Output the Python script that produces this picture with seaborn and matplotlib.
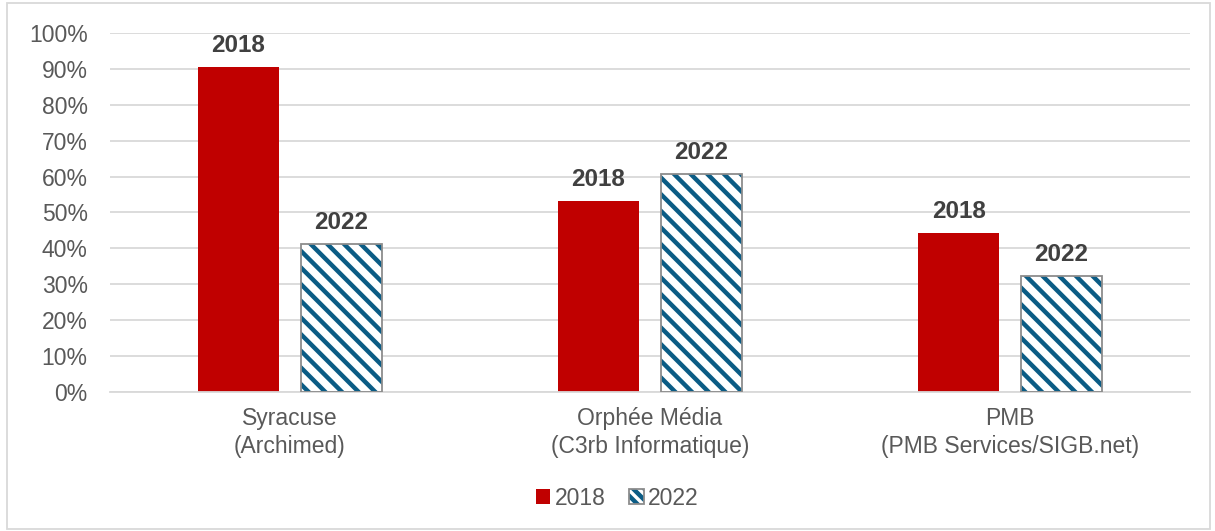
import matplotlib
matplotlib.use("Agg")
import matplotlib.pyplot as plt
import matplotlib.patches as mpatches
from matplotlib.ticker import PercentFormatter
import seaborn as sns
import pandas as pd

categories = ["Syracuse\n(Archimed)", "Orphée Média\n(C3rb Informatique)", "PMB\n(PMB Services/SIGB.net)"]
years = ["2018", "2022"]
share_2018 = [0.905, 0.532, 0.443]
share_2022 = [0.412, 0.607, 0.323]

RED = "#C00000"
TEAL = "#0B5C85"
OUTLINE = "#8C8C8C"
TEXT = "#595959"

sns.set_theme(style="white")
plt.rcParams["font.family"] = ["Liberation Sans", "DejaVu Sans"]
plt.rcParams["hatch.linewidth"] = 3.2

df = pd.DataFrame({
    "categorie": categories * 2,
    "annee": [years[0]] * 3 + [years[1]] * 3,
    "part": share_2018 + share_2022,
})

fig = plt.figure(figsize=(12.15, 5.31), dpi=100)
ax = fig.add_axes([0.0905, 0.262, 0.889, 0.676])

sns.barplot(data=df, x="categorie", y="part", hue="annee", order=categories,
            hue_order=years, palette=[RED, "white"], width=0.572, gap=0.21,
            ax=ax, legend=False, saturation=1)

bars_2018 = ax.containers[0]
bars_2022 = ax.containers[1]
for p in bars_2018:
    p.set_edgecolor(RED)
    p.set_linewidth(0)
for p in bars_2022:
    p.set_facecolor("white")
    p.set_hatch("\\\\")
    p.set_edgecolor(TEAL)
    p.set_linewidth(0)
    ax.add_patch(mpatches.Rectangle(p.get_xy(), p.get_width(), p.get_height(),
                                    fill=False, edgecolor=OUTLINE, linewidth=1.3, zorder=3))

for cont, yr in zip(ax.containers, years):
    ax.bar_label(cont, labels=[yr] * len(cont), padding=7, fontsize=17.5,
                 fontweight="bold", color="#404040")

ax.set_ylim(0, 1)
ax.set_xlim(-0.5, 2.5)
ax.yaxis.set_major_locator(plt.MultipleLocator(0.1))
ax.yaxis.set_major_formatter(PercentFormatter(1.0, decimals=0))
ax.grid(axis="y", color="#D9D9D9", linewidth=1.3)
ax.set_axisbelow(True)
for s in ["top", "right", "left"]:
    ax.spines[s].set_visible(False)
ax.spines["bottom"].set_color("#D9D9D9")
ax.spines["bottom"].set_linewidth(1.3)
ax.tick_params(axis="both", length=0, labelsize=16.5, labelcolor=TEXT)
ax.tick_params(axis="y", pad=16)
ax.tick_params(axis="x", pad=11)
for lbl in ax.get_xticklabels():
    lbl.set_linespacing(1.25)
ax.set_xlabel("")
ax.set_ylabel("")

h2018 = mpatches.Patch(facecolor=RED, edgecolor=RED, linewidth=0)
h2022_fill = mpatches.Patch(facecolor="white", edgecolor=TEAL, hatch="\\\\\\", linewidth=0)
h2022_edge = mpatches.Patch(fill=False, edgecolor=OUTLINE, linewidth=1.3)
fig.legend([h2018, (h2022_fill, h2022_edge)], years, loc="center", bbox_to_anchor=(0.508, 0.062),
           ncol=2, frameon=False, fontsize=16.5, labelcolor=TEXT, handlelength=0.65,
           handleheight=0.65, handletextpad=0.2, columnspacing=1.0)

fig.patches.append(mpatches.Rectangle((0.006, 0.004), 0.99, 0.99, transform=fig.transFigure,
                                      fill=False, edgecolor="#D9D9D9", linewidth=1.3))

fig.savefig("out.png", dpi=100)
